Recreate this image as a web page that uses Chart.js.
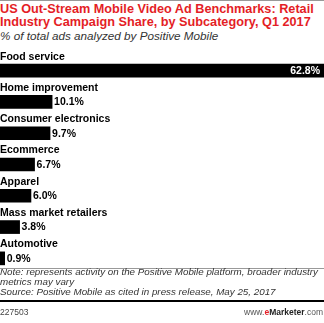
<!DOCTYPE html>
<html>
<head>
<meta charset="utf-8">
<script src="https://cdn.jsdelivr.net/npm/chart.js@4"></script>
<style>
  body { margin: 0; background: #fff; }
  #wrap { position: relative; width: 324px; height: 323px; overflow: hidden; font-family: "Liberation Sans", Arial, sans-serif; }
  .abs { position: absolute; left: 0; }
  #title { top: 3px; color: #e41e26; font-weight: bold; font-size: 12.7px; line-height: 13px; white-space: nowrap; }
  #sub { top: 29px; color: #333; font-style: italic; font-size: 11.7px; white-space: nowrap; }
  #note { top: 267px; color: #333; font-style: italic; font-size: 9.8px; line-height: 10.2px; white-space: nowrap; }
  #id { top: 307px; font-size: 8.5px; color: #444; }
  #brand { position: absolute; right: 1px; top: 307px; font-size: 8.5px; color: #555; }
  #brand b { color: #222; }
  #brand .e { color: #e41e26; font-weight: bold; }
  canvas { position: absolute; left: 0; top: 43px; }
</style>
</head>
<body>
<div id="wrap">
  <div class="abs" style="top:0;width:324px;height:1px;background:#999"></div>
  <div class="abs" id="title">US Out-Stream Mobile Video Ad Benchmarks: Retail<br>Industry Campaign Share, by Subcategory, Q1 2017</div>
  <div class="abs" id="sub">% of total ads analyzed by Positive Mobile</div>
  <canvas id="c" width="324" height="231"></canvas>
  <div class="abs" style="top:268px;width:324px;height:1px;background:#999"></div>
  <div class="abs" id="note">Note: represents activity on the Positive Mobile platform, broader industry<br>metrics may vary<br>Source: Positive Mobile as cited in press release, May 25, 2017</div>
  <div class="abs" style="top:300px;width:324px;height:2px;background:#000"></div>
  <div class="abs" id="id">227503</div>
  <div id="brand">www.<span class="e">e</span><b>Marketer</b>.com</div>
</div>
<script>
const categories = ['Food service', 'Home improvement', 'Consumer electronics', 'Ecommerce', 'Apparel', 'Mass market retailers', 'Automotive'];
const shares = [62.8, 10.1, 9.7, 6.7, 6.0, 3.8, 0.9];

const barLabels = {
  id: 'barLabels',
  afterDatasetsDraw(chart) {
    const ctx = chart.ctx;
    const meta = chart.getDatasetMeta(0);
    ctx.save();
    ctx.textBaseline = 'middle';
    meta.data.forEach((bar, i) => {
      ctx.font = 'bold 10.5px "Liberation Sans", Arial, sans-serif';
      ctx.fillStyle = '#000';
      ctx.textAlign = 'left';
      ctx.fillText(categories[i], 0, bar.y - 14);
      const txt = shares[i].toFixed(1) + '%';
      const w = ctx.measureText(txt).width;
      if (bar.x + w + 4 > chart.width) {
        ctx.fillStyle = '#fff';
        ctx.textAlign = 'right';
        ctx.fillText(txt, bar.x - 4, bar.y + 0.5);
      } else {
        ctx.fillStyle = '#000';
        ctx.fillText(txt, bar.x + 2, bar.y + 0.5);
      }
    });
    ctx.restore();
  }
};

new Chart(document.getElementById('c'), {
  type: 'bar',
  data: {
    labels: categories,
    datasets: [{
      data: shares,
      backgroundColor: '#000',
      borderWidth: 0,
      barThickness: 13
    }]
  },
  options: {
    indexAxis: 'y',
    responsive: false,
    animation: false,
    layout: { padding: { top: 12, bottom: 0, left: 0, right: 0 } },
    scales: {
      x: { display: false, min: 0, max: 62.8 },
      y: { display: false }
    },
    plugins: {
      legend: { display: false },
      tooltip: { enabled: false }
    }
  },
  plugins: [barLabels]
});
</script>
</body>
</html>
